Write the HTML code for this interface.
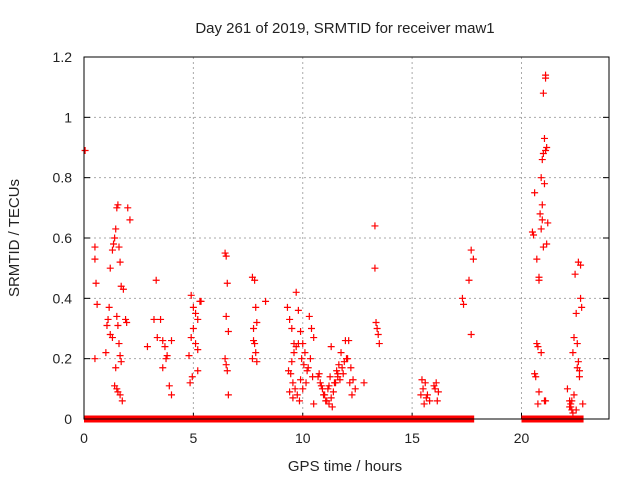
<!DOCTYPE html>
<html><head><meta charset="utf-8"><style>
body{margin:0;background:#fff;width:640px;height:480px;overflow:hidden}
text{font-family:"Liberation Sans","DejaVu Sans",sans-serif;fill:#222}
</style></head><body>
<svg id="chart" width="640" height="480" viewBox="0 0 640 480" xmlns="http://www.w3.org/2000/svg">
<text x="345" y="33" font-size="15" text-anchor="middle">Day 261 of 2019, SRMTID for receiver maw1</text>
<g id="grid"></g>
<g id="ticks"></g>
<g id="marks"></g>
<rect x="84" y="57" width="525" height="362" fill="none" stroke="#000" stroke-width="1"/>
<text x="345" y="471" font-size="15" text-anchor="middle">GPS time / hours</text>
<text transform="translate(19,238) rotate(-90)" font-size="15" text-anchor="middle">SRMTID / TECUs</text>
</svg>
<script>
const xTicks=[0,5,10,15,20];
const yTicks=[0,0.2,0.4,0.6,0.8,1,1.2];
const yTickLabels=["0","0.2","0.4","0.6","0.8","1","1.2"];
const zeroSegments=[[0,17.7],[20,22.7]];
const times=[0.05,0.5,0.5,0.55,0.6,0.5,
1.0,1.05,1.1,1.15,1.2,1.3,1.35,1.4,1.45,1.5,1.55,1.6,1.65,1.7,1.5,1.55,1.6,1.65,1.7,1.45,1.4,1.5,1.55,1.65,1.75,1.8,2.0,2.1,1.9,1.95,1.3,1.2,
2.9,3.2,3.3,3.35,3.5,3.6,3.7,3.75,3.8,3.9,4.0,4.0,3.6,
4.8,4.9,5.0,5.1,5.2,5.0,4.9,5.1,5.2,4.95,4.85,5.3,5.35,5.2,
6.45,6.5,6.55,6.5,6.6,6.45,6.5,6.55,6.6,
7.7,7.8,7.85,7.9,7.75,7.8,7.85,7.7,7.9,7.75,8.3,
9.3,9.4,9.5,9.6,9.7,9.8,9.9,10.0,10.1,9.35,9.45,9.55,9.65,9.75,9.85,9.95,10.05,10.2,10.3,10.4,10.5,10.45,10.35,9.5,9.6,9.7,9.8,9.9,10.0,9.4,9.55,10.15,10.25,10.5,
10.7,10.8,10.9,11.0,11.1,11.2,11.3,11.4,11.5,11.6,11.7,11.8,11.9,12.0,12.1,12.2,12.3,12.4,10.75,10.85,10.95,11.05,11.15,11.25,11.35,11.45,11.55,11.65,11.75,11.85,11.95,12.05,12.15,12.25,11.3,11.2,11.6,12.8,
13.3,13.3,13.35,13.4,13.45,13.5,
15.4,15.5,15.6,15.7,15.8,15.45,15.55,15.65,16.0,16.1,16.2,16.15,16.05,
17.3,17.35,17.6,17.7,17.8,17.7,
20.5,20.55,20.6,20.7,20.8,20.9,20.95,21.0,21.05,21.1,21.1,21.0,20.95,20.85,20.8,21.15,21.05,20.7,20.75,20.9,21.1,21.2,20.6,20.65,20.75,20.8,20.9,20.95,21.0,21.15,21.1,21.05,
22.1,22.2,22.25,22.3,22.35,22.4,22.5,22.55,22.6,22.65,22.7,22.75,22.8,22.35,22.45,22.5,22.6,22.7,22.3,22.4,22.2,22.25,22.55,22.65];
const values=[0.89,0.57,0.53,0.45,0.38,0.2,
0.22,0.31,0.33,0.37,0.5,0.56,0.58,0.6,0.63,0.7,0.71,0.57,0.52,0.44,0.34,0.31,0.25,0.21,0.19,0.17,0.11,0.1,0.09,0.08,0.06,0.43,0.7,0.66,0.33,0.32,0.27,0.28,
0.24,0.33,0.46,0.27,0.33,0.26,0.24,0.2,0.21,0.11,0.08,0.26,0.17,
0.21,0.41,0.37,0.35,0.33,0.3,0.27,0.25,0.23,0.14,0.12,0.39,0.39,0.16,
0.55,0.54,0.45,0.34,0.29,0.2,0.18,0.16,0.08,
0.47,0.46,0.37,0.32,0.3,0.25,0.22,0.2,0.19,0.26,0.39,
0.37,0.33,0.3,0.25,0.42,0.36,0.29,0.25,0.22,0.16,0.15,0.12,0.1,0.08,0.06,0.2,0.18,0.16,0.34,0.3,0.27,0.14,0.2,0.19,0.22,0.24,0.25,0.13,0.1,0.09,0.07,0.12,0.17,0.05,
0.14,0.12,0.1,0.08,0.06,0.05,0.07,0.09,0.12,0.15,0.13,0.17,0.19,0.2,0.26,0.17,0.13,0.1,0.15,0.11,0.08,0.06,0.1,0.14,0.04,0.12,0.16,0.18,0.22,0.15,0.26,0.2,0.12,0.08,0.24,0.11,0.14,0.12,
0.64,0.5,0.32,0.3,0.28,0.25,
0.08,0.1,0.12,0.08,0.06,0.13,0.05,0.07,0.11,0.12,0.09,0.06,0.1,
0.4,0.38,0.46,0.56,0.53,0.28,
0.62,0.61,0.75,0.53,0.47,0.63,0.71,0.88,0.93,1.14,1.13,1.08,0.86,0.68,0.46,0.9,0.78,0.25,0.24,0.22,0.06,0.65,0.15,0.14,0.05,0.09,0.8,0.66,0.57,0.58,0.89,0.06,
0.1,0.06,0.04,0.03,0.02,0.08,0.03,0.25,0.19,0.16,0.4,0.37,0.05,0.22,0.48,0.35,0.52,0.51,0.06,0.27,0.04,0.05,0.17,0.14];
const X=t=>84+t*525/24;
const Y=v=>419-v*362/1.2;
const NS="http://www.w3.org/2000/svg";
function mk(tag,attrs,parent){const e=document.createElementNS(NS,tag);for(const k in attrs)e.setAttribute(k,attrs[k]);parent.appendChild(e);return e;}
const grid=document.getElementById('grid'),ticks=document.getElementById('ticks'),marks=document.getElementById('marks');
xTicks.forEach(t=>{
  if(t>0){const g=mk('line',{x1:X(t),x2:X(t),y1:57,y2:419,stroke:'#aaa','stroke-dasharray':'2,3'},grid);
  
  }
  const tk=mk('line',{x1:X(t),x2:X(t),y1:419,y2:413,stroke:'#000'},ticks);
  
  
  const tx=mk('text',{x:X(t),y:443,'font-size':14,'text-anchor':'middle'},ticks);tx.textContent=t;
  
  
});
yTicks.forEach((v,i)=>{
  if(v>0&&v<1.2){const g=mk('line',{x1:84,x2:609,y1:Y(v),y2:Y(v),stroke:'#aaa','stroke-dasharray':'2,3'},grid);
  
  }
  const tk=mk('line',{x1:84,x2:90,y1:Y(v),y2:Y(v),stroke:'#000'},ticks);
  
  
  const tk2=mk('line',{x1:603,x2:609,y1:Y(v),y2:Y(v),stroke:'#000'},ticks);
  
  
  const tx=mk('text',{x:72,y:Y(v)+5,'font-size':14,'text-anchor':'end'},ticks);tx.textContent=yTickLabels[i];
  
  
});
zeroSegments.forEach(s=>{
  const r=mk('rect',{x:X(s[0]),y:Y(0)-3.5,width:X(s[1])-X(s[0])+3,height:7,fill:'#f00'},marks);
  
  
});
times.forEach((t,i)=>{
  const x=X(t),y=Y(values[i]);
  const p=mk('path',{d:`M${x-3.5},${y}H${x+3.5}M${x},${y-3.5}V${y+3.5}`,stroke:'#f00','stroke-width':1.2,fill:'none'},marks);
  
  
});
</script>
</body></html>
